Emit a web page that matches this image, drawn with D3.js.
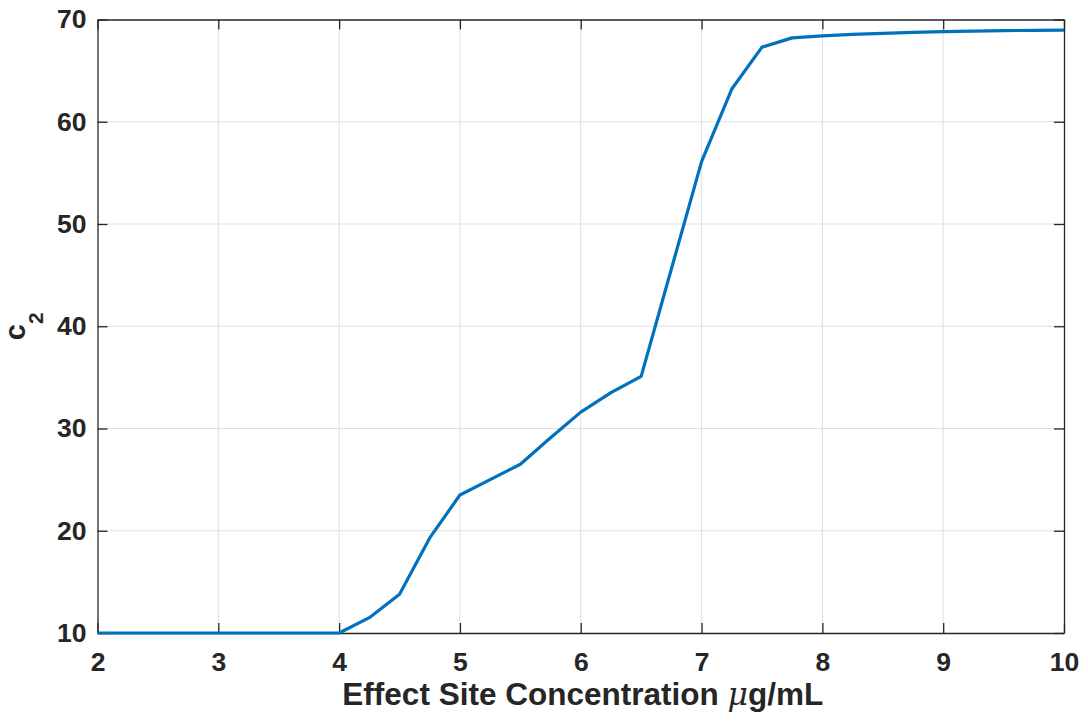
<!DOCTYPE html>
<html>
<head>
<meta charset="utf-8">
<script src="https://cdn.jsdelivr.net/npm/d3@7"></script>
<style>
  html, body { margin: 0; padding: 0; background: #fff; }
  svg { display: block; }
</style>
</head>
<body>
<svg id="chart" width="1088" height="721"></svg>
<script>
// Effect site concentration (µg/mL)
const concentration = [2, 2.25, 2.5, 2.75, 3, 3.25, 3.5, 3.75, 4, 4.25, 4.5, 4.75, 5, 5.25, 5.5, 5.75,
  6, 6.25, 6.5, 6.75, 7, 7.25, 7.5, 7.75, 8, 8.25, 8.5, 8.75, 9, 9.25, 9.5, 9.75, 10];
// c2 coefficient at each concentration
const c2Values = [10, 10, 10, 10, 10, 10, 10, 10, 10, 11.5, 13.8, 19.3, 23.5, 25.0, 26.5, 29.1,
  31.6, 33.5, 35.1, 45.6, 56.1, 63.2, 67.3, 68.2, 68.4, 68.55, 68.65, 68.75, 68.82, 68.87, 68.91, 68.94, 68.96];

const xTicks = [2, 3, 4, 5, 6, 7, 8, 9, 10];
const yTicks = [10, 20, 30, 40, 50, 60, 70];

const svg = d3.select("#chart");
const plotLeft = 97.5, plotRight = 1064, plotTop = 19.5, plotBottom = 633;

const x = d3.scaleLinear().domain([2, 10]).range([plotLeft, plotRight]);
const y = d3.scaleLinear().domain([10, 70]).range([plotBottom, plotTop]);

const axisColor = "#262626";
const font = "'Liberation Sans', Arial, Helvetica, sans-serif";

// grid
const grid = svg.append("g").attr("stroke", "#dfdfdf").attr("stroke-width", 1);
grid.selectAll(".gx").data(xTicks.slice(1, -1)).join("line")
  .attr("x1", d => x(d)).attr("x2", d => x(d))
  .attr("y1", plotTop).attr("y2", plotBottom);
grid.selectAll(".gy").data(yTicks.slice(1, -1)).join("line")
  .attr("x1", plotLeft).attr("x2", plotRight)
  .attr("y1", d => y(d)).attr("y2", d => y(d));

function styleAxis(g, showText) {
  g.select(".domain").attr("stroke", axisColor).attr("stroke-width", 1.3);
  g.selectAll(".tick line").attr("stroke", axisColor).attr("stroke-width", 1.3);
  g.selectAll(".tick text")
    .attr("fill", axisColor)
    .attr("font-family", font)
    .attr("font-weight", "bold")
    .attr("font-size", 26.5)
    .style("display", showText ? null : "none");
}

svg.append("g").attr("transform", `translate(0,${plotBottom})`)
  .call(d3.axisBottom(x).tickValues(xTicks).tickSizeInner(-10).tickSizeOuter(0).tickPadding(19))
  .call(g => styleAxis(g, true));
svg.append("g").attr("transform", `translate(0,${plotTop})`)
  .call(d3.axisTop(x).tickValues(xTicks).tickSizeInner(-10).tickSizeOuter(0))
  .call(g => styleAxis(g, false));
svg.append("g").attr("transform", `translate(${plotLeft},0)`)
  .call(d3.axisLeft(y).tickValues(yTicks).tickSizeInner(-10).tickSizeOuter(0).tickPadding(11))
  .call(g => styleAxis(g, true));
svg.append("g").attr("transform", `translate(${plotRight},0)`)
  .call(d3.axisRight(y).tickValues(yTicks).tickSizeInner(-10).tickSizeOuter(0))
  .call(g => styleAxis(g, false));

// data line
const line = d3.line().x((d, i) => x(concentration[i])).y(d => y(d));
svg.append("path")
  .datum(c2Values)
  .attr("d", line)
  .attr("fill", "none")
  .attr("stroke", "#0072BD")
  .attr("stroke-width", 3.2)
  .attr("stroke-linejoin", "round");

// x axis label
const xl = svg.append("text")
  .attr("x", (plotLeft + plotRight) / 2 + 2)
  .attr("y", 705)
  .attr("text-anchor", "middle")
  .attr("fill", axisColor)
  .attr("font-family", font)
  .attr("font-weight", "bold")
  .attr("font-size", 31.5);
xl.append("tspan").text("Effect Site Concentration ");
xl.append("tspan").text("\u03BC")
  .attr("font-family", "'DejaVu Serif', serif")
  .attr("font-style", "italic")
  .attr("font-weight", "normal");
xl.append("tspan").text("g/mL");

// y axis label
const yl = svg.append("text")
  .attr("transform", `translate(25,${(plotTop + plotBottom) / 2}) rotate(-90)`)
  .attr("text-anchor", "middle")
  .attr("fill", axisColor)
  .attr("font-family", font)
  .attr("font-weight", "bold")
  .attr("font-size", 29);
yl.append("tspan").text("c");
yl.append("tspan").text("2").attr("font-size", 21).attr("dy", 18);
</script>
</body>
</html>
